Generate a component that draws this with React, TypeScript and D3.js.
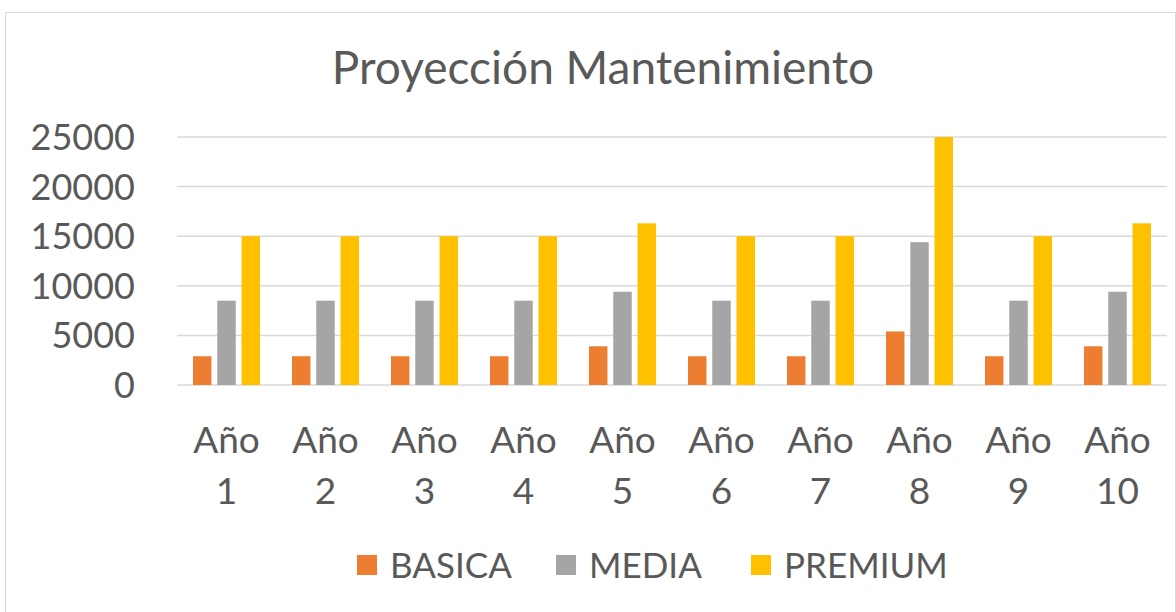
import React, { useEffect, useRef } from "react";
import * as d3 from "d3";

const years = ["Año 1", "Año 2", "Año 3", "Año 4", "Año 5", "Año 6", "Año 7", "Año 8", "Año 9", "Año 10"];
const seriesNames = ["BASICA", "MEDIA", "PREMIUM"];
const basica = [2900, 2900, 2900, 2900, 3900, 2900, 2900, 5400, 2900, 3900];
const media = [8500, 8500, 8500, 8500, 9400, 8500, 8500, 14400, 8500, 9400];
const premium = [15000, 15000, 15000, 15000, 16300, 15000, 15000, 25000, 15000, 16300];
const yTicks = [0, 5000, 10000, 15000, 20000, 25000];
const colors = ["#ED7D31", "#A5A5A5", "#FFC000"];

const W = 1176;
const H = 612;
const FONT = "Lato, 'Noto Sans', sans-serif";

const App = () => {
  const ref = useRef<SVGSVGElement>(null);

  useEffect(() => {
    const svg = d3.select(ref.current);
    svg.selectAll("*").remove();

    const margin = { top: 137, right: 9, bottom: 227, left: 177 };
    const width = W - margin.left - margin.right;
    const height = H - margin.top - margin.bottom;

    // chart frame
    svg
      .append("rect")
      .attr("x", 5.5)
      .attr("y", 12.5)
      .attr("width", W - 6)
      .attr("height", H - 12)
      .attr("fill", "white")
      .attr("stroke", "#d9d9d9");

    svg
      .append("text")
      .attr("x", 603)
      .attr("y", 84)
      .attr("text-anchor", "middle")
      .attr("font-family", FONT)
      .attr("font-size", "46px")
      .attr("fill", "#595959")
      .text("Proyección Mantenimiento");

    const g = svg.append("g").attr("transform", `translate(${margin.left},${margin.top})`);

    const x = d3.scaleBand().domain(years).range([0, width]).paddingInner(0).paddingOuter(0);
    const y = d3.scaleLinear().domain([0, 25000]).range([height, 0]);
    const x1 = d3.scaleBand().domain(seriesNames).range([0, 67]).paddingInner(0.24);

    // gridlines
    g.selectAll(".grid")
      .data(yTicks)
      .enter()
      .append("line")
      .attr("x1", 0)
      .attr("x2", width)
      .attr("y1", (d) => y(d))
      .attr("y2", (d) => y(d))
      .attr("stroke", "#d9d9d9")
      .attr("stroke-width", 1.5);

    // y tick labels
    g.selectAll(".ylab")
      .data(yTicks)
      .enter()
      .append("text")
      .attr("x", -42)
      .attr("y", (d) => y(d))
      .attr("dy", "0.36em")
      .attr("text-anchor", "end")
      .attr("font-family", FONT)
      .attr("font-size", "36px")
      .attr("fill", "#595959")
      .text((d) => `${d}`);

    const data = [basica, media, premium];
    const groupOffset = (x.bandwidth() - 67) / 2;

    years.forEach((yr, i) => {
      const grp = g.append("g").attr("transform", `translate(${(x(yr) as number) + groupOffset},0)`);
      seriesNames.forEach((s, k) => {
        grp
          .append("rect")
          .attr("x", x1(s) as number)
          .attr("y", y(data[k][i]))
          .attr("width", x1.bandwidth())
          .attr("height", height - y(data[k][i]))
          .attr("fill", colors[k]);
      });
      const parts = yr.split(" ");
      const cx = (x(yr) as number) + x.bandwidth() / 2;
      const t = g
        .append("text")
        .attr("x", cx)
        .attr("y", 316)
        .attr("text-anchor", "middle")
        .attr("font-family", FONT)
        .attr("font-size", "37px")
        .attr("fill", "#595959");
      t.append("tspan").attr("x", cx).text(parts[0]);
      t.append("tspan").attr("x", cx).attr("dy", 51).text(parts[1]);
    });

    // legend
    const legendX = [357, 556, 751];
    const legend = svg.append("g");
    seriesNames.forEach((s, k) => {
      legend
        .append("rect")
        .attr("x", legendX[k])
        .attr("y", 555)
        .attr("width", 20)
        .attr("height", 20)
        .attr("fill", colors[k]);
      legend
        .append("text")
        .attr("x", legendX[k] + 33)
        .attr("y", 578)
        .attr("font-family", FONT)
        .attr("font-size", "35px")
        .attr("fill", "#595959")
        .text(s);
    });
  }, []);

  return (
    <svg
      ref={ref}
      width={W}
      height={H}
      style={{ position: "absolute", left: 0, top: 0, display: "block", background: "white" }}
    />
  );
};

export default App;
